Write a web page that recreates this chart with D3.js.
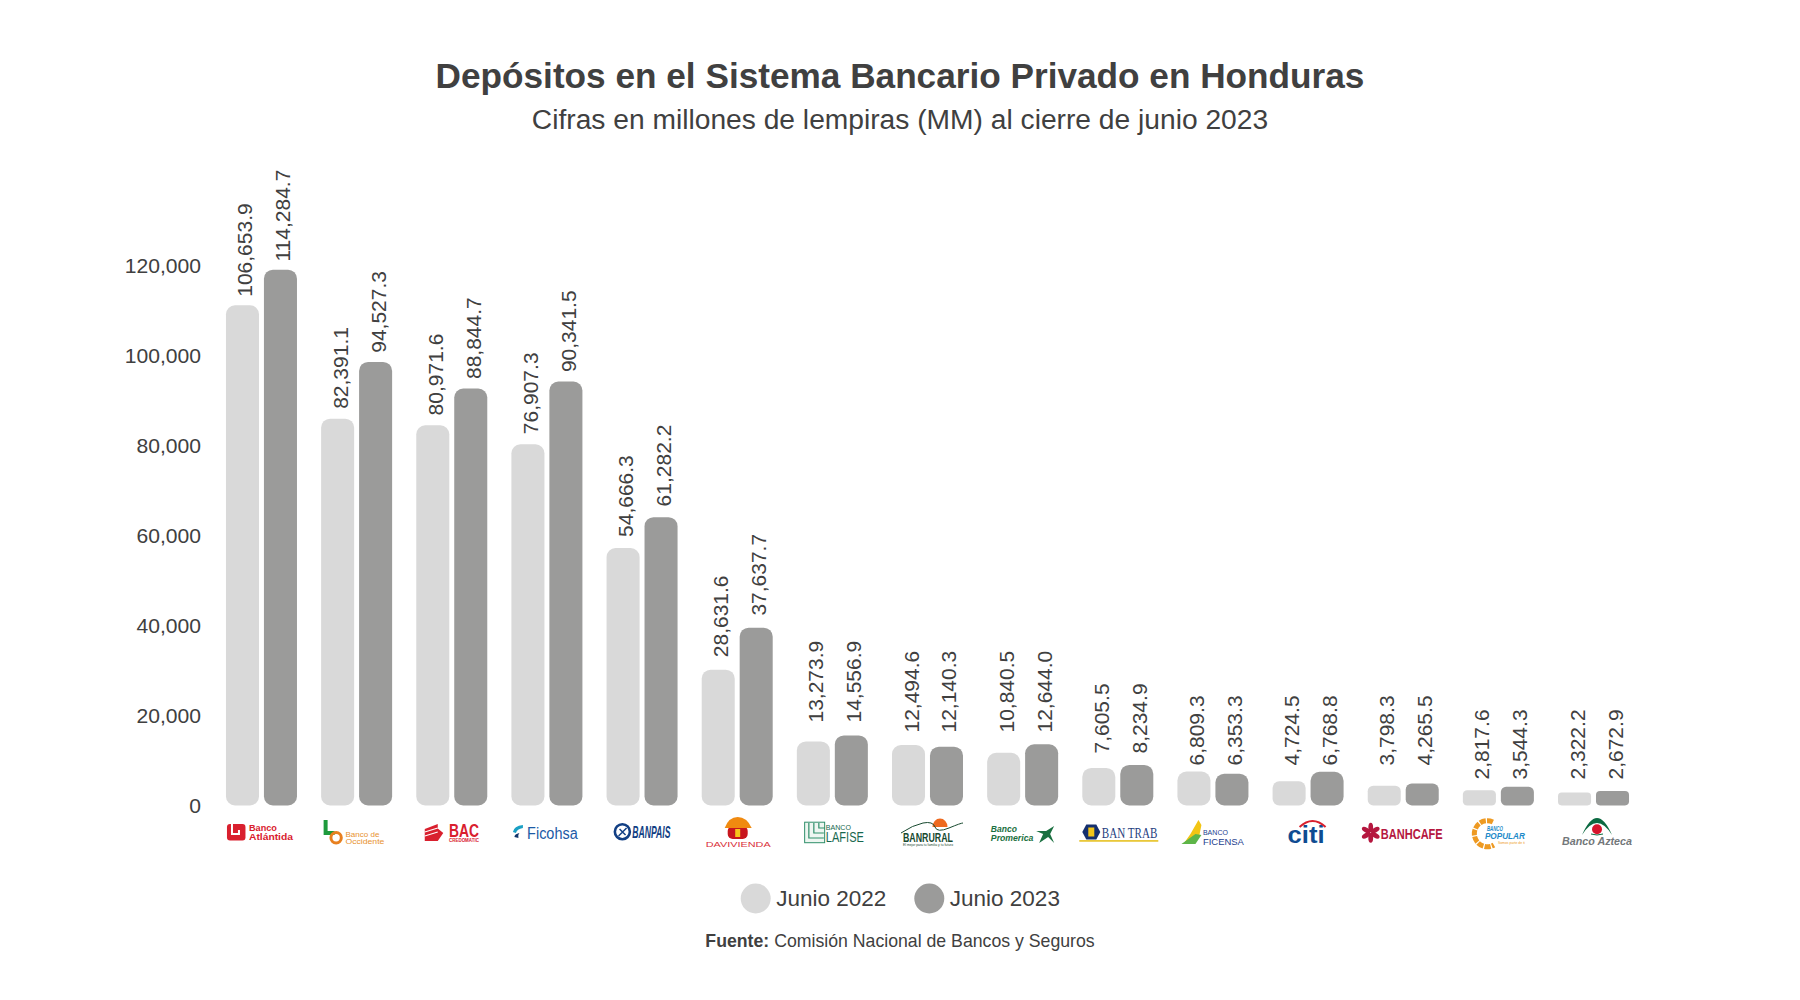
<!DOCTYPE html>
<html>
<head>
<meta charset="utf-8">
<script src="https://cdn.jsdelivr.net/npm/d3@7"></script>
<style>
  html, body { margin: 0; background: #fff; }
  text { font-family: "Liberation Sans", Arial, sans-serif; fill: #404040; }
</style>
</head>
<body>
<div id="chart"></div>
<script>
const banks = ["Banco Atlántida", "Banco de Occidente", "BAC", "Ficohsa", "Banpaís", "Davivienda", "Lafise",
  "Banrural", "Promerica", "Bantrab", "Ficensa", "Citi", "Banhcafé", "Popular", "Azteca"];
const junio2022 = [106653.9, 82391.1, 80971.6, 76907.3, 54666.3, 28631.6, 13273.9, 12494.6, 10840.5, 7605.5, 6809.3, 4724.5, 3798.3, 2817.6, 2322.2];
const junio2023 = [114284.7, 94527.3, 88844.7, 90341.5, 61282.2, 37637.7, 14556.9, 12140.3, 12644.0, 8234.9, 6353.3, 6768.8, 4265.5, 3544.3, 2672.9];
const seriesNames = ["Junio 2022", "Junio 2023"];
const seriesValues = [junio2022, junio2023];
const axisTicks = [0, 20000, 40000, 60000, 80000, 100000, 120000];

const width = 1800, height = 1000;
const baseline = 805.4;
const colors = ["#d9d9d9", "#9b9b9a"];

const svg = d3.select("#chart").append("svg")
  .attr("width", width)
  .attr("height", height)
  .style("display", "block");

/* titles */
svg.append("text").attr("x", 900).attr("y", 88).attr("text-anchor", "middle")
  .style("font-size", "35.2px").style("font-weight", "bold")
  .text("Depósitos en el Sistema Bancario Privado en Honduras");
svg.append("text").attr("x", 900).attr("y", 129).attr("text-anchor", "middle")
  .style("font-size", "28.2px")
  .text("Cifras en millones de lempiras (MM) al cierre de junio 2023");

/* scales: the labels, the bars and the axis do not share one scale in the original */
const x = d3.scaleBand().domain(banks).range([213.9, 1641.1]).paddingInner(0.2537).paddingOuter(0.12685);
const xInner = d3.scaleBand().domain(seriesNames).range([0, x.bandwidth()]).paddingInner(0.13);
const yAxis = d3.scaleLinear().domain([0, 120000]).range([baseline, baseline - 540]);
const yBar = d3.scaleLinear().domain([0, 120000]).range([baseline - 2, baseline - 2 - 560.4]);
const yLabel = d3.scaleLinear().domain([0, 120000]).range([789.5, 235.1]);
// short bars have their labels sitting on a few fixed levels, picked by the taller bar of the pair
const yLabelSmall = d3.scaleThreshold().domain([4000, 7000, 10000, 14000]).range([779.5, 765.5, 753.5, 732.5, 722.5]);

const fmt = d3.format(",.1f");

/* y axis */
const axisG = svg.append("g")
  .attr("transform", "translate(201,0)")
  .call(d3.axisLeft(yAxis).tickValues(axisTicks).tickSize(0).tickPadding(0).tickFormat(d3.format(",")));
axisG.select(".domain").remove();
axisG.selectAll("text").style("font-size", "21.1px").style("font-family", '"Liberation Sans", Arial, sans-serif').attr("fill", "#404040").attr("dy", "0.35em");

/* bars + value labels */
const groups = svg.selectAll("g.bank").data(banks).join("g")
  .attr("class", "bank")
  .attr("transform", d => "translate(" + x(d) + ",0)");

seriesNames.forEach((name, s) => {
  const values = seriesValues[s];
  groups.append("rect")
    .attr("x", xInner(name))
    .attr("y", (d, i) => yBar(values[i]))
    .attr("width", xInner.bandwidth())
    .attr("height", (d, i) => baseline - yBar(values[i]))
    .attr("rx", (d, i) => Math.min(9, (baseline - yBar(values[i])) * 0.28))
    .attr("fill", colors[s]);

  groups.append("text")
    .attr("transform", (d, i) => {
      const top = Math.max(junio2022[i], junio2023[i]);
      const ly = top < 20000 ? yLabelSmall(top) : yLabel(values[i]);
      return "translate(" + (xInner(name) + xInner.bandwidth() / 2 + 10) + "," + ly + ") rotate(-90)";
    })
    .style("font-size", "21px")
    .text((d, i) => fmt(values[i]));
});

/* bank logos, drawn small as wordmarks */
const wm = (g, str, px, py, size, color, w, opts) => {
  opts = opts || {};
  const t = g.append("text").attr("x", px).attr("y", py).text(str)
    .style("font-size", size + "px").style("fill", color)
    .style("font-weight", opts.weight || "normal")
    .style("font-style", opts.italic ? "italic" : "normal");
  if (opts.family) t.style("font-family", opts.family);
  if (w) t.attr("textLength", w).attr("lengthAdjust", "spacingAndGlyphs");
  return t;
};

const logos = {
  "Banco Atlántida": g => {
    g.append("rect").attr("x", 1).attr("y", 824).attr("width", 18.5).attr("height", 16.5).attr("rx", 3).attr("fill", "#d9202e");
    g.append("path").attr("d", "M6 823v11h7v-4").attr("fill", "none").attr("stroke", "#fff").attr("stroke-width", 2);
    wm(g, "Banco", 23, 831.2, 9.6, "#d9202e", 28, { weight: "bold" });
    wm(g, "Atlántida", 23, 840.4, 9.6, "#d9202e", 44, { weight: "bold" });
  },
  "Banco de Occidente": g => {
    g.append("path").attr("d", "M4.5 820v13h9").attr("fill", "none").attr("stroke", "#1e9a3c").attr("stroke-width", 4);
    g.append("circle").attr("cx", 15).attr("cy", 837.7).attr("r", 5.2).attr("fill", "none").attr("stroke", "#e8801f").attr("stroke-width", 3);
    wm(g, "Banco de", 24.3, 836.7, 8, "#e8922f", 34);
    wm(g, "Occidente", 24.3, 844, 8, "#e8922f", 39);
  },
  "BAC": g => {
    g.append("path").attr("d", "M8.5 829l13-5v4.5l5.5 4.5-5.5 8H8.5z").attr("fill", "#d9202e");
    g.append("path").attr("d", "M8.5 832l13-4M8.5 836l13-4").attr("stroke", "#fff").attr("stroke-width", 1.1);
    wm(g, "BAC", 32.7, 836.7, 17.7, "#d9202e", 30, { weight: "bold" });
    wm(g, "CREDOMATIC", 32.7, 841.5, 4.5, "#d9202e", 30, { weight: "bold" });
  },
  "Ficohsa": g => {
    g.append("path").attr("d", "M1.5 832q1-6 10-7v3q-6 1-7 5z").attr("fill", "#1aa0c4");
    g.append("path").attr("d", "M3 837q0-3 5-4-2 2-1 5z").attr("fill", "#12356b");
    wm(g, "Ficohsa", 15.7, 839, 16, "#1c5aa6", 50.6);
  },
  "Banpaís": g => {
    g.append("circle").attr("cx", 15.8).attr("cy", 831.7).attr("r", 7.5).attr("fill", "#fff").attr("stroke", "#123f84").attr("stroke-width", 2.6);
    g.append("path").attr("d", "M12 836l8-8M13 829l6 6").attr("stroke", "#123f84").attr("stroke-width", 1.5);
    wm(g, "BANPAIS", 25.7, 837.7, 17, "#123f84", 38.3, { weight: "bold", italic: true });
  },
  "Davivienda": g => {
    g.append("rect").attr("x", 26).attr("y", 826).attr("width", 20).attr("height", 13).attr("rx", 5).attr("fill", "#c8161d");
    g.append("path").attr("d", "M23 828q4-11 13-11t14 11z").attr("fill", "#f08a10");
    g.append("rect").attr("x", 33.5).attr("y", 829).attr("width", 5).attr("height", 8).attr("fill", "#f7c51a");
    wm(g, "DAVIVIENDA", 4, 847, 8, "#d9303a", 65);
  },
  "Lafise": g => {
    g.append("rect").attr("x", 7.8).attr("y", 822.2).attr("width", 20).attr("height", 20.5).attr("fill", "#eef6f1").attr("stroke", "#2f8f6a").attr("stroke-width", 1);
    g.append("path").attr("d", "M12 823v15h15M17 823v10h10M22 823v5h6").attr("fill", "none").attr("stroke", "#2f8f6a").attr("stroke-width", 1.2);
    wm(g, "BANCO", 29, 830, 8, "#17674e", 25);
    wm(g, "LAFISE", 29, 841.7, 14, "#17674e", 38);
  },
  "Banrural": g => {
    g.append("path").attr("d", "M40.5 827a7.5 8.5 0 0 1 15 0z").attr("fill", "#ee6a1f");
    g.append("path").attr("d", "M9 833q12-8 22-10t12 4 14 1 14-5").attr("fill", "none").attr("stroke", "#17492f").attr("stroke-width", 1);
    wm(g, "BANRURAL", 11, 841.7, 12, "#17492f", 50, { weight: "bold" });
    wm(g, "El mejor para tu familia y tu futuro", 11, 845.5, 3, "#17492f", 50);
  },
  "Promerica": g => {
    wm(g, "Banco", 3.7, 832.2, 9.4, "#1a7040", 26, { weight: "bold", italic: true });
    wm(g, "Promerica", 3.7, 841.4, 9.4, "#1a7040", 42.5, { weight: "bold", italic: true });
    g.append("path").attr("d", "M52 843l4-9-7-3 10 0 8-5-4 8 4 9-6-6z").attr("fill", "#1a7040");
  },
  "Bantrab": g => {
    g.append("path").attr("d", "M0 832l4-7.5h10l4 7.5-4 7.5H4z").attr("fill", "#142f6e");
    g.append("rect").attr("x", 6).attr("y", 827.5).attr("width", 6).attr("height", 9).attr("fill", "#f1c419");
    wm(g, "BAN TRAB", 19.5, 838, 15, "#25417f", 55.5, { family: '"Liberation Serif", serif' });
    g.append("rect").attr("x", -3).attr("y", 840).attr("width", 79).attr("height", 1.8).attr("fill", "#e9c83a");
  },
  "Ficensa": g => {
    g.append("path").attr("d", "M13 834l8-14 3 5-2 10-16 9z").attr("fill", "#f2c514");
    g.append("path").attr("d", "M4 844l14-10 6 1-6 9z").attr("fill", "#5db548");
    wm(g, "BANCO", 25.5, 835.2, 7, "#24408e", 25);
    wm(g, "FICENSA", 25.5, 844.6, 9.5, "#24408e", 41);
  },
  "Citi": g => {
    wm(g, "citi", 15, 843.3, 24, "#0f4c92", 37, { weight: "bold" });
    g.append("path").attr("d", "M27 827q13-12 26 0").attr("fill", "none").attr("stroke", "#d9202e").attr("stroke-width", 2);
  },
  "Banhcafé": g => {
    g.append("g").selectAll("ellipse").data(d3.range(6)).join("ellipse")
      .attr("cx", 3).attr("cy", 827.5).attr("rx", 2.4).attr("ry", 4.8)
      .attr("transform", d => "rotate(" + (d * 60) + " 3 832.7)").attr("fill", "#b5173f");
    wm(g, "BANHCAFE", 13, 838.5, 14.5, "#b5173f", 62, { weight: "bold" });
  },
  "Popular": g => {
    g.append("path").attr("d", "M30 822A13 13 0 1 0 31 845").attr("fill", "none").attr("stroke", "#ee9a22").attr("stroke-width", 5).attr("stroke-dasharray", "6 1.2");
    wm(g, "BANCO", 24, 831, 6.5, "#1d8ac9", 16, { weight: "bold", italic: true });
    wm(g, "POPULAR", 22, 839, 9.5, "#1d8ac9", 40, { weight: "bold", italic: true });
    wm(g, "Somos parte de ti", 35, 843.5, 3.5, "#ee9a22", 27);
  },
  "Azteca": g => {
    g.append("path").attr("d", "M24 835Q39 801 54 835Q39 811 24 835z").attr("fill", "#0c6a42");
    g.append("path").attr("d", "M33 834q6 2 12 0").attr("fill", "none").attr("stroke", "#0c6a42").attr("stroke-width", 1);
    g.append("circle").attr("cx", 39).attr("cy", 829.3).attr("r", 5).attr("fill", "#d6142c");
    wm(g, "Banco Azteca", 4, 844.5, 10.5, "#73777a", 70, { weight: "bold", italic: true });
  }
};
groups.each(function(d) { logos[d](d3.select(this).append("g")); });

/* legend */
const legendX = d3.scaleOrdinal().domain(seriesNames).range([755.7, 929.3]);
const legend = svg.selectAll("g.legend").data(seriesNames).join("g")
  .attr("class", "legend")
  .attr("transform", d => "translate(" + legendX(d) + ",898.5)");
legend.append("circle").attr("r", 15).attr("fill", (d, i) => colors[i]);
legend.append("text").attr("x", 20.5).attr("y", 7.5).style("font-size", "22.5px").text(d => d);

/* source */
const source = svg.append("text").attr("x", 900).attr("y", 946.5).attr("text-anchor", "middle").style("font-size", "17.7px");
source.append("tspan").style("font-weight", "bold").text("Fuente:");
source.append("tspan").text(" Comisión Nacional de Bancos y Seguros");
</script>
</body>
</html>
